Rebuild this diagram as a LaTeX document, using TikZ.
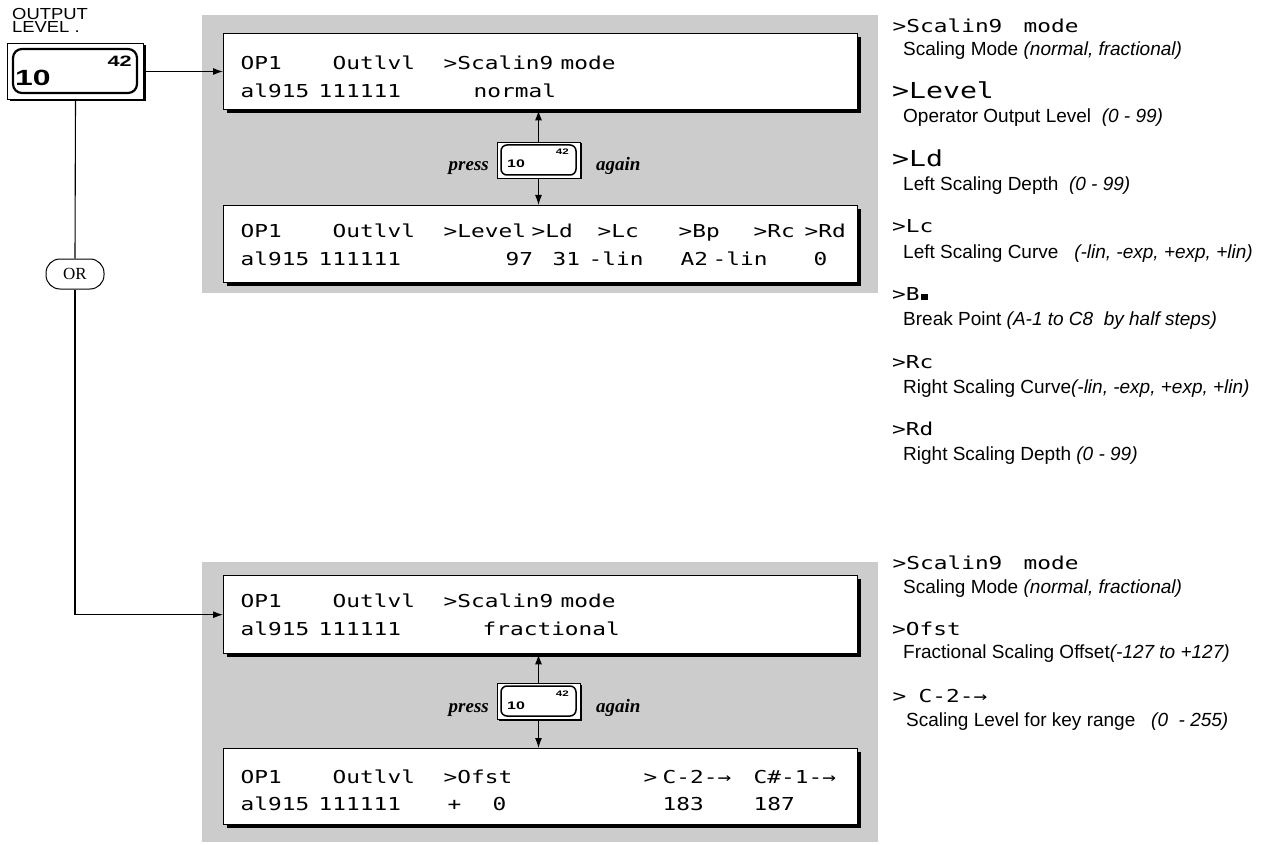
\documentclass[tikz,border=0pt]{standalone}
\usepackage{fontspec}
\setmainfont{Liberation Sans}
\newfontfamily\lcdfont[FakeStretch=1.28]{DejaVu Sans Mono}
\newfontfamily\widesans[FakeStretch=1.15]{Liberation Sans}
\newfontfamily\btnfont[FakeStretch=1.45]{Liberation Sans}
\newfontfamily\timesfont{Liberation Serif}
\usetikzlibrary{arrows.meta,shadows}
\newcommand{\tk}[2]{\makebox[0pt][l]{\hspace*{#1pt}#2}}
\definecolor{panelgray}{gray}{0.8}
\begin{document}
\begin{tikzpicture}[x=1pt,y=-1pt,
  lcdbox/.style={draw=black, line width=1.4pt, fill=white, minimum width=634pt, anchor=north west, inner sep=0pt,
     drop shadow={shadow xshift=3pt, shadow yshift=-3pt, fill=black, opacity=1}},
  lcdtxt/.style={font=\lcdfont\fontsize{17.8}{20}\selectfont, inner sep=0pt, anchor=base west},
  lcdbig/.style={font=\lcdfont\fontsize{22}{24}\selectfont, inner sep=0pt, anchor=base west},
  desc/.style={font=\fontsize{19}{22}\selectfont, inner sep=0pt, anchor=base west},
  pressfont/.style={font=\timesfont\bfseries\itshape\fontsize{19}{22}\selectfont, inner sep=0pt},
  smallbtn/.style={draw, line width=0.9pt, fill=white, minimum width=83pt, minimum height=36pt, inner sep=0pt,
     drop shadow={shadow xshift=1.5pt, shadow yshift=-1.5pt, fill=black, opacity=1}},
  arr/.style={line width=1.1pt, -{Latex[length=10pt,width=7pt]}},
  conn/.style={line width=1.1pt}]
\useasboundingbox (0,0) rectangle (1271,845);
\fill[white] (0,0) rectangle (1271,845);

% shaded panels
\fill[panelgray] (202,15) rectangle (878,293);
\fill[panelgray] (202,562) rectangle (878,842);

% LCD boxes
\node[lcdbox, minimum height=76pt] (lcdA) at (223,33) {};
\node[lcdbox, minimum height=77pt] (lcdB) at (223,205) {};
\node[lcdbox, minimum height=78pt] (lcdC) at (223,575) {};
\node[lcdbox, minimum height=76pt] (lcdD) at (223,748) {};

% LCD texts
\node[lcdtxt] (tA1) at (240,70) {\tk{0}{OP1}\tk{92}{Outlvl}\tk{203}{>Scalin9}\tk{320}{mode}};
\node[lcdtxt] (tA2) at (240,98) {\tk{0}{al915}\tk{78}{111111}\tk{233}{normal}};
\node[lcdtxt] (tB1) at (240,237) {\tk{0}{OP1}\tk{92}{Outlvl}\tk{203}{>Level}\tk{291}{>Ld}\tk{357}{>Lc}\tk{438}{>Bp}\tk{513}{>Rc}\tk{564}{>Rd}};
\node[lcdtxt] (tB2) at (240,265) {\tk{0}{al915}\tk{78}{111111}\tk{265}{97}\tk{312}{31}\tk{348}{-lin}\tk{440}{A2}\tk{472}{-lin}\tk{573}{0}};
\node[lcdtxt] (tC1) at (240,607) {\tk{0}{OP1}\tk{92}{Outlvl}\tk{203}{>Scalin9}\tk{320}{mode}};
\node[lcdtxt] (tC2) at (240,635) {\tk{0}{al915}\tk{78}{111111}\tk{242}{fractional}};
\node[lcdtxt] (tD1) at (240,783) {\tk{0}{OP1}\tk{92}{Outlvl}\tk{203}{>Ofst}\tk{403}{>}\tk{422}{C-2-→}\tk{513}{C\#-1-→}};
\node[lcdtxt] (tD2) at (240,810) {\tk{0}{al915}\tk{78}{111111}\tk{207}{+}\tk{252}{0}\tk{422}{183}\tk{513}{187}};

% press buttons
\node[smallbtn] (pbtnA) at (538.5,160) {};
\draw[line width=1.5pt, rounded corners=6pt] (501,145) rectangle (576,175);
\node[font=\btnfont\bfseries\fontsize{11}{12}\selectfont, inner sep=0pt, anchor=base west] (pA10) at (507,168) {10};
\node[font=\btnfont\bfseries\fontsize{8}{9}\selectfont, inner sep=0pt, anchor=base east] (pA42) at (569,155) {42};
\node[pressfont, anchor=base east] (pressA) at (489,171) {press};
\node[pressfont, anchor=base west] (againA) at (596,171) {again};
\draw[arr] (pbtnA.north) -- (pbtnA.north |- lcdA.south);
\draw[arr] (pbtnA.south) -- (pbtnA.south |- lcdB.north);

\node[smallbtn] (pbtnB) at (538.5,701) {};
\draw[line width=1.5pt, rounded corners=6pt] (501,686) rectangle (576,716);
\node[font=\btnfont\bfseries\fontsize{11}{12}\selectfont, inner sep=0pt, anchor=base west] (pB10) at (507,709) {10};
\node[font=\btnfont\bfseries\fontsize{8}{9}\selectfont, inner sep=0pt, anchor=base east] (pB42) at (569,696) {42};
\node[pressfont, anchor=base east] (pressB) at (489,712) {press};
\node[pressfont, anchor=base west] (againB) at (596,712) {again};
\draw[arr] (pbtnB.north) -- (pbtnB.north |- lcdC.south);
\draw[arr] (pbtnB.south) -- (pbtnB.south |- lcdD.north);

% output level button
\node[font=\widesans\fontsize{16}{17}\selectfont, inner sep=0pt, anchor=base west] (out1) at (12,19.5) {OUTPUT};
\node[font=\widesans\fontsize{16}{17}\selectfont, inner sep=0pt, anchor=base west] (out2) at (12,33) {LEVEL .};
\node[draw, line width=1pt, fill=white, minimum width=136pt, minimum height=56pt, anchor=north west, inner sep=0pt,
   drop shadow={shadow xshift=2pt, shadow yshift=-2pt, fill=black, opacity=1}] (olbtn) at (7,43) {};
\draw[line width=2.2pt, rounded corners=9pt] (13,49) rectangle (137,93);
\node[font=\btnfont\bfseries\fontsize{22}{24}\selectfont, inner sep=0pt, anchor=base west] (b10) at (15,86) {10};
\node[font=\btnfont\bfseries\fontsize{15}{16}\selectfont, inner sep=0pt, anchor=base east] (b42) at (132,67) {42};

% OR
\node[draw, line width=1pt, fill=white, rounded corners=14pt, minimum width=58pt, minimum height=30pt, inner sep=0pt,
   font=\timesfont\fontsize{17}{20}\selectfont] (orn) at (75,274) {OR};

% connectors
\draw[arr] (olbtn.east) -- (lcdA.west |- olbtn.east);
\draw[conn] (olbtn.south) -- (orn.north);
\draw[arr] (orn.south) |- (lcdC.west);

% right column (top)
\node[lcdtxt] (r1) at (892,33) {\tk{0}{>Scalin9}\tk{131}{mode}};
\node[desc] (d1) at (903,56) {Scaling Mode \textit{(normal, fractional)}};
\node[lcdbig] (r2) at (892,99) {>Level};
\node[desc] (d2) at (903,123) {Operator Output Level\ \ \textit{(0 - 99)}};
\node[lcdbig] (r3) at (892,167) {>Ld};
\node[desc] (d3) at (903,190) {Left Scaling Depth\ \ \textit{(0 - 99)}};
\node[lcdtxt] (r4) at (892,233) {>Lc};
\node[desc] (d4) at (903,258) {Left Scaling Curve\ \ \ \textit{(-lin, -exp, +exp, +lin)}};
\node[lcdtxt] (r5) at (892,300) {>B\hspace{1pt}\rule{7pt}{6pt}};
\node[desc] (d5) at (903,325) {Break Point \textit{(A-1 to C8\ \ by half steps)}};
\node[lcdtxt] (r6) at (892,368) {>Rc};
\node[desc] (d6) at (903,393) {Right Scaling Curve\textit{(-lin, -exp, +exp, +lin)}};
\node[lcdtxt] (r7) at (892,435) {>Rd};
\node[desc] (d7) at (903,460) {Right Scaling Depth \textit{(0 - 99)}};

% right column (bottom)
\node[lcdtxt] (r8) at (892,569) {\tk{0}{>Scalin9}\tk{131}{mode}};
\node[desc] (d8) at (903,593) {Scaling Mode \textit{(normal, fractional)}};
\node[lcdtxt] (r9) at (892,635) {>Ofst};
\node[desc] (d9) at (903,658) {Fractional Scaling Offset\textit{(-127 to +127)}};
\node[lcdtxt] (r10) at (892,702) {\tk{0}{>}\tk{26}{C-2-→}};
\node[desc] (d10) at (906,726) {Scaling Level for key range\ \ \ \textit{(0\ \ - 255)}};
\end{tikzpicture}
\end{document}
